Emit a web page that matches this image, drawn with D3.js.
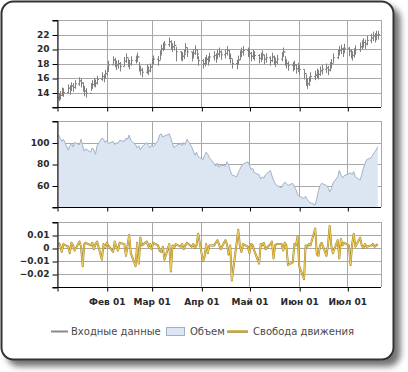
<!DOCTYPE html>
<html>
<head>
<meta charset="utf-8">
<script src="https://cdn.jsdelivr.net/npm/d3@7"></script>
<style>
  body { margin: 0; background: #fff; }
  .axis-label { font-family: "DejaVu Sans", sans-serif; font-weight: bold; font-size: 9px; fill: #2a2a2a; }
  .legend-label { font-family: "DejaVu Sans", sans-serif; font-size: 10px; fill: #4a4a4a; }
</style>
</head>
<body>
<svg id="chart" width="408" height="372"></svg>
<script>
// trading days, one row per week (first week starts Tue Jan 2)
const firstDay = new Date(2001, 0, 2);
const lastDay = new Date(2001, 6, 20);

const closes = [
  13.3, 13.6, 14.2, 14.0,
  14.6, 14.3, 14.9, 14.7, 15.2,
  15.6, 15.3, 14.8, 14.2, 13.9,
  14.8, 15.1, 15.4, 15.3, 15.8,
  16.2, 16.0, 16.6, 16.9, 17.8,
  18.5, 18.2, 17.8, 18.0, 17.6,
  18.3, 18.8, 18.2, 17.9, 18.4,
  18.6, 18.9, 17.6, 17.1, 16.8,
  17.3, 17.0, 17.5, 18.2, 18.6,
  18.4, 19.2, 20.0, 20.3, 20.6,
  21.0, 20.6, 20.3, 20.5, 19.6,
  19.1, 19.0, 19.3, 20.2, 19.6,
  19.0, 19.4, 19.9, 19.3, 18.4,
  18.0, 18.3, 18.6, 18.4, 18.9,
  19.1, 18.8, 19.3, 19.6, 19.2,
  19.4, 19.8, 19.3, 18.7, 18.0,
  17.9, 18.5, 19.2, 19.6, 19.8,
  19.6, 19.4, 19.0, 19.3, 19.1,
  18.7, 18.9, 19.2, 18.6, 18.8,
  18.4, 18.9, 18.5, 18.2, 18.6,
  19.0, 19.6, 18.4, 18.0, 17.7,
  17.6, 17.8, 17.3, 17.5, 17.2,
  16.6, 15.8, 15.2, 15.6, 16.2,
  16.4, 16.7, 16.5, 17.0, 17.2,
  17.4, 17.1, 17.6, 18.0, 18.8,
  19.3, 19.8, 20.0, 19.6, 20.1,
  19.7, 19.4, 19.1, 19.5, 19.9,
  20.3, 20.6, 20.9, 20.7, 21.2,
  21.5, 21.8, 21.6, 21.9, 22.0
];

const highs = [
  13.9, 14.2, 14.7, 14.6,
  15.1, 15.0, 15.4, 15.3, 15.7,
  16.1, 15.9, 15.4, 14.9, 14.6,
  15.3, 15.7, 16.0, 15.8, 16.3,
  16.8, 16.5, 17.1, 17.5, 18.4,
  19.0, 18.8, 18.4, 18.5, 18.2,
  18.9, 19.4, 18.7, 18.5, 19.0,
  19.1, 19.5, 18.2, 17.7, 17.4,
  17.9, 17.6, 18.0, 18.7, 19.1,
  19.0, 19.8, 20.6, 20.9, 21.1,
  21.6, 21.2, 20.8, 21.1, 20.3,
  19.7, 19.6, 19.9, 20.8, 20.2,
  19.6, 20.0, 20.5, 19.9, 19.0,
  18.6, 18.9, 19.2, 19.0, 19.5,
  19.7, 19.4, 19.9, 20.2, 19.8,
  20.0, 20.4, 19.9, 19.3, 18.6,
  18.5, 19.1, 19.8, 20.2, 20.4,
  20.2, 20.0, 19.6, 19.9, 19.7,
  19.3, 19.5, 19.8, 19.2, 19.4,
  19.0, 19.5, 19.1, 18.8, 19.2,
  19.6, 20.2, 19.0, 18.6, 18.3,
  18.2, 18.4, 17.9, 18.1, 17.8,
  17.2, 16.5, 15.9, 16.2, 16.8,
  17.0, 17.3, 17.1, 17.6, 17.8,
  18.0, 17.7, 18.2, 18.6, 19.4,
  19.9, 20.4, 20.6, 20.2, 20.7,
  20.3, 20.0, 19.7, 20.1, 20.5,
  20.9, 21.2, 21.5, 21.3, 21.8,
  22.1, 22.4, 22.2, 22.5, 22.5
];

const lows = [
  12.8, 13.0, 13.5, 13.4,
  13.9, 13.7, 14.2, 14.1, 14.5,
  14.9, 14.7, 14.1, 13.5, 13.3,
  14.2, 14.5, 14.8, 14.7, 15.1,
  15.6, 15.4, 15.9, 16.3, 17.0,
  17.8, 17.5, 17.1, 17.3, 16.9,
  17.6, 18.1, 17.5, 17.2, 17.7,
  18.0, 18.2, 16.9, 16.4, 16.1,
  16.6, 16.4, 16.8, 17.5, 17.9,
  17.7, 18.5, 19.3, 19.7, 19.9,
  20.3, 19.9, 19.6, 19.8, 18.3,
  18.4, 18.3, 18.6, 19.5, 18.9,
  18.3, 18.7, 19.2, 18.6, 17.7,
  17.3, 17.6, 17.9, 17.7, 18.2,
  18.4, 18.1, 18.6, 18.9, 18.5,
  18.7, 19.1, 18.6, 18.0, 17.3,
  17.2, 17.8, 18.5, 18.9, 19.1,
  18.9, 18.7, 18.3, 18.6, 18.4,
  18.0, 18.2, 18.5, 17.9, 18.1,
  17.7, 18.2, 17.8, 17.5, 17.9,
  18.3, 18.9, 17.7, 17.3, 17.0,
  16.9, 17.1, 16.6, 16.8, 16.5,
  15.8, 14.9, 14.5, 14.9, 15.5,
  15.7, 16.0, 15.8, 16.3, 16.5,
  16.7, 16.4, 16.9, 17.3, 18.1,
  18.6, 19.1, 19.3, 18.9, 19.4,
  19.0, 18.7, 18.4, 18.8, 19.2,
  19.6, 19.9, 20.2, 20.0, 20.5,
  20.8, 21.1, 20.9, 21.2, 21.3
];

const volumes = [
  107, 104, 101, 103,
  93, 97, 99, 96, 100,
  98, 103, 97, 92, 94,
  91, 95, 93, 89, 97,
  104, 103, 100, 102, 99,
  101, 98, 100, 99, 102,
  101, 104, 103, 107, 102,
  98, 95, 97, 93, 96,
  100, 97, 95, 98, 96,
  102, 107, 108, 105, 106,
  108, 104, 99, 95, 97,
  99, 97, 100, 98, 103,
  96, 92, 88, 91, 87,
  84, 88, 91, 89, 86,
  80, 78, 81, 77, 79,
  78, 82, 79, 74, 70,
  68, 72, 75, 78, 80,
  82, 79, 75, 76, 72,
  70, 66, 68, 67, 70,
  74, 69, 65, 62, 60,
  58, 61, 63, 62, 60,
  62, 59, 56, 52, 50,
  48, 50, 47, 45, 44,
  42, 48, 55, 60, 62,
  60, 58, 54, 57, 62,
  68, 74, 70, 67, 69,
  71, 72, 70, 73, 68,
  65, 70, 76, 80, 84,
  86, 89, 91, 93, 96
];

const freedom = [
  0.004, 0.002, -0.003, 0.003,
  0.001, -0.004, 0.004, 0.002, -0.002,
  0.005, 0.001, -0.014, 0.003, 0.004,
  0.002, 0.004, -0.001, 0.003, 0.005,
  -0.009, 0.003, 0.000, 0.004, 0.002,
  -0.003, 0.005, 0.001, -0.002, 0.004,
  0.003, -0.006, 0.002, 0.010, -0.004,
  -0.014, 0.004, -0.012, 0.008, 0.002,
  0.005, 0.001, 0.003, -0.001, 0.004,
  0.002, -0.002, -0.003, 0.001, -0.009,
  0.003, -0.018, 0.002, 0.000, 0.003,
  0.001, 0.003, -0.001, 0.002, 0.004,
  0.001, 0.003, 0.000, 0.002, 0.011,
  -0.010, -0.007, 0.003, -0.004, 0.002,
  0.002, 0.004, 0.006, 0.003, -0.001,
  0.006, 0.003, -0.005, 0.002, -0.025,
  0.004, 0.014, 0.002, -0.003, 0.003,
  0.001, -0.004, 0.003, 0.002, -0.002,
  -0.012, 0.003, 0.002, 0.004, -0.001,
  0.003, 0.005, -0.008, 0.002, 0.003,
  0.003, -0.002, 0.004, 0.002, -0.013,
  -0.011, 0.003, 0.002, 0.009, -0.014,
  -0.024, 0.002, 0.001, 0.003, 0.002,
  0.015, -0.005, -0.006, 0.002, 0.004,
  -0.006, 0.003, 0.017, 0.002, -0.004,
  0.006, -0.008, 0.007, 0.002, 0.004,
  0.002, -0.013, 0.003, 0.011, 0.001,
  0.008, 0.002, 0.000, 0.003, 0.001,
  0.002, 0.003, 0.001, 0.002, 0.003
];

const priceDomain = [12, 24];
const priceTicks = [12, 14, 16, 18, 20, 22, 24];
const volumeDomain = [40, 120];
const volumeTicks = [40, 60, 80, 100, 120];
const freedomDomain = [-0.03, 0.02];
const freedomTicks = [-0.03, -0.02, -0.01, 0, 0.01, 0.02];

const monthTicks = [
  new Date(2001, 0, 1), new Date(2001, 1, 1), new Date(2001, 2, 1),
  new Date(2001, 3, 1), new Date(2001, 4, 1), new Date(2001, 5, 1), new Date(2001, 6, 1)
];
const monthLabels = ['', 'Фев 01', 'Мар 01', 'Апр 01', 'Май 01', 'Июн 01', 'Июл 01'];
const legendNames = ['Входные данные', 'Объем', 'Свобода движения'];

function renderChart() {
  const svg = d3.select('#chart');

  // trading days (Mon-Fri) for the x positions
  const days = d3.timeDay
    .range(firstDay, d3.timeDay.offset(lastDay, 1))
    .filter(d => d.getDay() > 0 && d.getDay() < 6);

  const left = 57;
  const right = 381;
  const gridColor = '#a8a8a8';
  const goldDark = '#a08430';
  const goldLight = '#f3cf55';

  const x = d3.scaleTime()
    .domain([new Date(2001, 0, 1), new Date(2001, 6, 22)])
    .range([left, right]);

  // 1- frame with drop shadow
  const defs = svg.append('defs');
  const shadow = defs.append('filter')
    .attr('id', 'shadow')
    .attr('x', '-5%').attr('y', '-5%')
    .attr('width', '115%').attr('height', '115%');
  shadow.append('feDropShadow')
    .attr('dx', 6).attr('dy', 6)
    .attr('stdDeviation', 3)
    .attr('flood-color', '#000')
    .attr('flood-opacity', 0.55);

  svg.append('rect')
    .attr('x', 1.5).attr('y', 1.5)
    .attr('width', 392).attr('height', 358)
    .attr('rx', 12)
    .attr('fill', '#fff')
    .attr('stroke', '#333')
    .attr('stroke-width', 2)
    .attr('filter', 'url(#shadow)');

  // 2- the three panels
  const panels = [
    { top: 20, bottom: 107, domain: priceDomain, ticks: priceTicks, fmt: d3.format('d') },
    { top: 121, bottom: 207, domain: volumeDomain, ticks: volumeTicks, fmt: d3.format('d') },
    { top: 222, bottom: 287, domain: freedomDomain, ticks: freedomTicks, fmt: d => d === 0 ? '0' : d3.format('.2f')(d) }
  ];

  panels.forEach(p => {
    p.y = d3.scaleLinear().domain(p.domain).range([p.bottom, p.top]);
    const g = svg.append('g');
    const lo = p.domain[0];
    const hi = p.domain[1];

    // grid
    g.selectAll('.hgrid')
      .data(p.ticks)
      .join('line')
      .attr('x1', left).attr('x2', right)
      .attr('y1', d => Math.round(p.y(d)) + 0.5)
      .attr('y2', d => Math.round(p.y(d)) + 0.5)
      .attr('stroke', gridColor);

    g.selectAll('.vgrid')
      .data(monthTicks.concat([x.domain()[1]]))
      .join('line')
      .attr('x1', d => Math.round(x(d)) + 0.5)
      .attr('x2', d => Math.round(x(d)) + 0.5)
      .attr('y1', p.top).attr('y2', p.bottom)
      .attr('stroke', gridColor);

    p.g = g;
    p.axisFmt = d => (Math.abs(d - lo) < 1e-9 || Math.abs(d - hi) < 1e-9) ? '' : p.fmt(d);
  });

  // 3- price bars (high-low with open/close ticks)
  const price = panels[0];
  const bars = price.g.append('g')
    .attr('stroke', '#808080')
    .attr('stroke-width', 1);

  days.forEach((d, i) => {
    const cx = Math.round(x(d)) + 0.5;
    const open = i > 0 ? closes[i - 1] : closes[i];
    bars.append('line')
      .attr('x1', cx).attr('x2', cx)
      .attr('y1', price.y(highs[i])).attr('y2', price.y(lows[i]));
    bars.append('line')
      .attr('x1', cx - 1.5).attr('x2', cx)
      .attr('y1', price.y(open)).attr('y2', price.y(open));
    bars.append('line')
      .attr('x1', cx).attr('x2', cx + 1.5)
      .attr('y1', price.y(closes[i])).attr('y2', price.y(closes[i]));
  });

  // 4- volume area
  const vol = panels[1];
  const volData = days.map((d, i) => [d, volumes[i]]);
  vol.g.append('path')
    .datum(volData)
    .attr('fill', '#dce6f2')
    .attr('d', d3.area().x(d => x(d[0])).y0(vol.bottom).y1(d => vol.y(d[1])));
  vol.g.append('path')
    .datum(volData)
    .attr('fill', 'none')
    .attr('stroke', '#a2b2c6')
    .attr('stroke-width', 1)
    .attr('d', d3.line().x(d => x(d[0])).y(d => vol.y(d[1])));

  // 5- freedom of movement line
  const fr = panels[2];
  const frData = days.map((d, i) => [d, freedom[i]]);
  const frLine = d3.line().x(d => x(d[0])).y(d => fr.y(d[1]));
  fr.g.append('path')
    .datum(frData)
    .attr('fill', 'none')
    .attr('stroke', goldDark)
    .attr('stroke-width', 2)
    .attr('stroke-linejoin', 'round')
    .attr('d', frLine);
  fr.g.append('path')
    .datum(frData)
    .attr('fill', 'none')
    .attr('stroke', goldLight)
    .attr('stroke-width', 1)
    .attr('stroke-linejoin', 'round')
    .attr('d', frLine);

  // 6- axes on top (left + bottom dark, top/right border grey)
  panels.forEach((p, i) => {
    const yAxis = p.g.append('g')
      .attr('transform', `translate(${left + 0.5},0)`)
      .call(d3.axisLeft(p.y).tickValues(p.ticks).tickSize(5).tickPadding(3).tickFormat(p.axisFmt));
    yAxis.select('.domain').attr('stroke', '#000');
    yAxis.selectAll('.tick line').attr('stroke', '#000')
      .attr('transform', 'translate(0,0.5)');
    yAxis.selectAll('text').attr('class', 'axis-label').attr('font-family', null).attr('font-size', null);

    const xAxis = p.g.append('g')
      .attr('transform', `translate(0,${p.bottom + 0.5})`)
      .call(d3.axisBottom(x).tickValues(monthTicks).tickSize(4).tickPadding(7)
        .tickFormat((d, k) => i === 2 ? monthLabels[k] : ''));
    xAxis.select('.domain').attr('stroke', '#000')
      .attr('d', `M${left},0H${right}`);
    xAxis.selectAll('.tick line').attr('stroke', '#000')
      .attr('transform', 'translate(0.5,0)');
    xAxis.selectAll('text').attr('class', 'axis-label').attr('font-family', null).attr('font-size', null);
  });

  // 7- legend
  const legend = svg.append('g').attr('transform', 'translate(0,331)');
  legend.append('line')
    .attr('x1', 51).attr('x2', 68).attr('y1', 0.5).attr('y2', 0.5)
    .attr('stroke', '#8a8a8a').attr('stroke-width', 2);
  legend.append('text').attr('class', 'legend-label')
    .attr('x', 71).attr('y', 4).text(legendNames[0]);

  legend.append('rect')
    .attr('x', 166.5).attr('y', -3.5).attr('width', 18).attr('height', 8)
    .attr('fill', '#dce6f2').attr('stroke', '#9db0c8');
  legend.append('text').attr('class', 'legend-label')
    .attr('x', 190).attr('y', 4).text(legendNames[1]);

  legend.append('line')
    .attr('x1', 227).attr('x2', 248).attr('y1', 0.5).attr('y2', 0.5)
    .attr('stroke', goldDark).attr('stroke-width', 2.5);
  legend.append('line')
    .attr('x1', 227).attr('x2', 248).attr('y1', 0).attr('y2', 0)
    .attr('stroke', goldLight).attr('stroke-width', 1);
  legend.append('text').attr('class', 'legend-label')
    .attr('x', 253).attr('y', 4).text(legendNames[2]);
}

document.addEventListener('DOMContentLoaded', renderChart);
</script>
</body>
</html>
